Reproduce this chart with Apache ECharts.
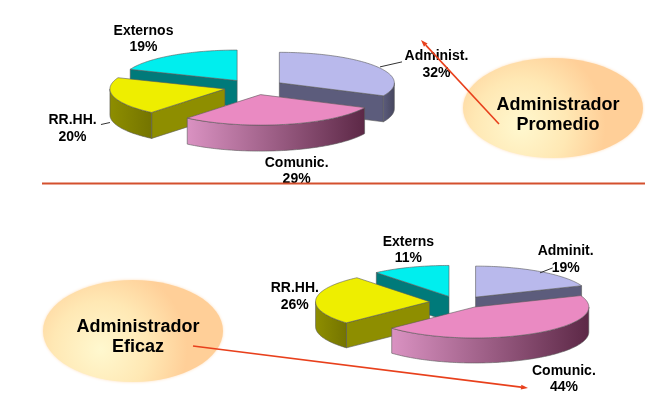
<!DOCTYPE html>
<html><head><meta charset="utf-8">
<script src="https://cdn.jsdelivr.net/npm/echarts@6/dist/echarts.min.js"></script>
<style>html,body{margin:0;padding:0;background:#fff}#c{width:645px;height:405px}</style>
</head><body><div id="c"></div>
<script>
// ---- data ----
const topCategories = ['Administ.', 'Comunic.', 'RR.HH.', 'Externos'];
const topValues = [32, 29, 20, 19];
const bottomCategories = ['Adminit.', 'Comunic.', 'RR.HH.', 'Externs'];
const bottomValues = [19, 44, 26, 11];
const calloutTitles = ['Administrador\nPromedio', 'Administrador\nEficaz'];

// ---- styles ----
const topColors = ['#b9b9ec', '#ea8ac2', '#eeee00', '#00eeee'];
const sideColors = [['#5c5c7c', '#46465e'], ['#da92c2', '#5c2846'], ['#8e8e00', '#747400'], ['#007a7a', '#005c5c']];
const FONT = 'bold 14px "Liberation Sans", Arial, sans-serif';

const pies = [
  { cats: topCategories, vals: topValues, cx: 254, cy: 87, rx: 115, ry: 30.5, depth: 26, explode: 30, ek: 0.26,
    labelOff: [[60, -2], [11, 47], [-41, 32], [-29, -16]],
    leader: [[[3.6, 0.4], [25.6, -4.6]], null, [[-12.6, 28], [-3.6, 26]], null] },
  { cats: bottomCategories, vals: bottomValues, cx: 459, cy: 302, rx: 114, ry: 31, depth: 25, explode: 29.5, ek: 0.2,
    labelOff: [[26, -12], [28, 46], [-21, -3], [-2, -17]],
    leader: [[[0.3, 1.4], [13, -3.6]], null, null, null] }
];

function renderPie(pie) {
  const total = pie.vals.reduce((a, b) => a + b, 0);
  return function (params, api) {
    const i = params.dataIndex;
    let start = 0;
    for (let k = 0; k < i; k++) start += pie.vals[k];
    const v = api.value(0);
    const T = 2 * Math.PI;
    const a0 = start / total * T, a1 = (start + v) / total * T, am = (a0 + a1) / 2;
    // painter's rank: slices further back first
    const mids = []; let s = 0;
    pie.vals.forEach(x => { mids.push((s + x / 2) / total * T); s += x; });
    const order = mids.map((m, k) => k).sort((p, q) => Math.cos(mids[q]) - Math.cos(mids[p]));
    const base = order.indexOf(i) * 10;
    const vx = pie.cx + pie.explode * Math.sin(am);
    const vy = pie.cy - pie.explode * pie.ek * Math.cos(am);
    const rim = a => [vx + pie.rx * Math.sin(a), vy - pie.ry * Math.cos(a)];
    const down = p => [p[0], p[1] + pie.depth];
    const arc = (b0, b1) => {
      const n = Math.max(2, Math.ceil((b1 - b0) / 0.02));
      const pts = [];
      for (let j = 0; j <= n; j++) pts.push(rim(b0 + (b1 - b0) * j / n));
      return pts;
    };
    const edge = { stroke: '#5a5a5a', lineWidth: 0.6, lineJoin: 'round' };
    const children = [];
    const V = [vx, vy], Vd = [vx, vy + pie.depth];
    if (Math.sin(a0) < -1e-6) {
      const r = rim(a0);
      children.push({ type: 'polygon', shape: { points: [V, r, down(r), Vd] },
        style: Object.assign({ fill: sideColors[i][0] }, edge), z2: base + 1 });
    }
    if (Math.sin(a1) > 1e-6) {
      const r = rim(a1);
      children.push({ type: 'polygon', shape: { points: [V, r, down(r), Vd] },
        style: Object.assign({ fill: sideColors[i][0] }, edge), z2: base + 1 });
    }
    const w0 = Math.max(a0, Math.PI / 2), w1 = Math.min(a1, 1.5 * Math.PI);
    if (w1 > w0) {
      const t = arc(w0, w1);
      const b = t.map(down).reverse();
      children.push({ type: 'polygon', shape: { points: t.concat(b) },
        style: Object.assign({ fill: { type: 'linear', x: 0, y: 0, x2: 1, y2: 0,
          colorStops: [{ offset: 0, color: sideColors[i][0] }, { offset: 1, color: sideColors[i][1] }] } }, edge),
        z2: base + 2 });
    }
    children.push({ type: 'polygon', shape: { points: [V].concat(arc(a0, a1)) },
      style: Object.assign({ fill: topColors[i] }, edge), z2: base + 3 });
    // label
    const anc = rim(am);
    const pct = Math.round(v / total * 100);
    const off = pie.labelOff[i];
    children.push({ type: 'text', z2: 200,
      style: { text: pie.cats[i] + '\n' + pct + '%', x: anc[0] + off[0], y: anc[1] + off[1],
        align: 'center', verticalAlign: 'middle', font: FONT, fill: '#000', lineHeight: 16.5 } });
    const ld = pie.leader[i];
    if (ld) {
      children.push({ type: 'line', z2: 199,
        shape: { x1: anc[0] + ld[0][0], y1: anc[1] + ld[0][1], x2: anc[0] + ld[1][0], y2: anc[1] + ld[1][1] },
        style: { stroke: '#333', lineWidth: 1 } });
    }
    return { type: 'group', children };
  };
}

function arrowLine(x1, y1, x2, y2) {
  const ang = Math.atan2(y2 - y1, x2 - x1);
  const L = 7, W = 2.5;
  const bx = x2 - L * Math.cos(ang), by = y2 - L * Math.sin(ang);
  const nx = -Math.sin(ang) * W, ny = Math.cos(ang) * W;
  return [
    { type: 'line', z: 50, shape: { x1, y1, x2: bx, y2: by }, style: { stroke: '#e8401c', lineWidth: 1.6 } },
    { type: 'polygon', z: 50, shape: { points: [[x2, y2], [bx + nx, by + ny], [bx - nx, by - ny]] }, style: { fill: '#e8401c' } }
  ];
}

function callout(cx, cy, rx, ry, tx, ty, text) {
  return [
    { type: 'ellipse', z: 1, shape: { cx, cy, rx, ry },
      style: { fill: { type: 'radial', x: 0.32, y: 0.68, r: 0.85,
        colorStops: [{ offset: 0, color: '#fff8cf' }, { offset: 0.55, color: '#ffe8b4' }, { offset: 1, color: '#ffcf98' }] },
        shadowBlur: 3, shadowColor: 'rgba(255,200,140,0.6)' } },
    { type: 'text', z: 2, style: { text, x: tx, y: ty, align: 'center', verticalAlign: 'middle',
      font: 'bold 18px "Liberation Sans", Arial, sans-serif', lineHeight: 20, fill: '#000' } }
  ];
}

const chart = echarts.init(document.getElementById('c'));
chart.setOption({
  animation: false,
  backgroundColor: '#fff',
  series: pies.map(p => ({
    type: 'custom', coordinateSystem: 'none', silent: true,
    data: p.vals.map((v, i) => ({ name: p.cats[i], value: [v] })),
    renderItem: renderPie(p)
  })),
  graphic: [
    ...callout(553, 108, 90, 50, 558, 115, calloutTitles[0]),
    ...callout(133, 331, 90, 51, 138, 337, calloutTitles[1]),
    { type: 'line', z: 50, shape: { x1: 42, y1: 183.5, x2: 645, y2: 183.5 }, style: { stroke: '#d4502e', lineWidth: 2.2 } },
    ...arrowLine(499, 124, 421, 40),
    ...arrowLine(193, 346, 528, 388)
  ]
});
</script></body></html>
